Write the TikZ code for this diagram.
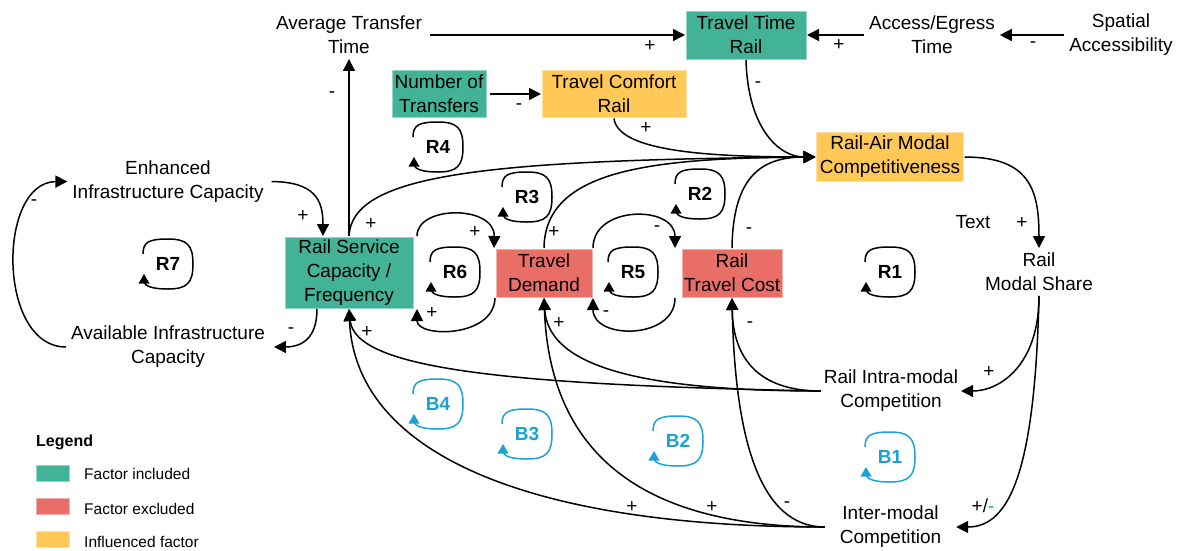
\documentclass[tikz,border=0pt]{standalone}
\usepackage{fontspec}
\setmainfont{Liberation Sans}
\usetikzlibrary{arrows.meta}

\definecolor{incl}{RGB}{67,179,151}
\definecolor{excl}{RGB}{233,110,103}
\definecolor{infl}{RGB}{255,200,87}
\definecolor{loopblue}{RGB}{27,161,212}

\tikzset{
  lbl/.style={font=\fontsize{19}{24}\selectfont, align=center, inner sep=0pt, outer sep=5pt},
  factor/.style={lbl, outer sep=1pt, fill=#1, draw=#1!55!white, line width=0.6pt},
  arr/.style={line width=1.5pt, -{Triangle[length=12pt,width=12pt]}},
  sign/.style={font=\fontsize{19}{22}\selectfont, inner sep=0pt},
  looplbl/.style={font=\fontsize{19}{22}\selectfont\bfseries, inner sep=0pt},
  legendtxt/.style={font=\fontsize{15.5}{19}\selectfont, anchor=west, inner sep=0pt},
  swatch/.style={fill=#1, draw=#1!55!white, line width=0.6pt, minimum width=33pt, minimum height=16pt, inner sep=0pt, anchor=north west},
}

% feedback-loop marker: rounded loop, arrowhead at lower left, bold label
\newcommand{\fbloop}[4]{%
  \begin{scope}[shift={(#1,#2)}]
    \draw[#4, line width=1.5pt] (-25,-10) .. controls (-25,-22) and (-19,-25) .. (0,-25)
      .. controls (19,-25) and (25,-19) .. (25,0)
      .. controls (25,19) and (19,25) .. (0,25)
      .. controls (-16,25) and (-24,22) .. (-24,17);
    \fill[#4] (-24,10) -- (-29.5,19.5) -- (-18.5,19.5) -- cycle;
    \node[looplbl, text=#4] (loop#3) at (0,0) {#3};
  \end{scope}}

\begin{document}
\begin{tikzpicture}[x=1pt,y=-1pt]
\useasboundingbox (0,0) rectangle (1184,550);

% ---- factors ----
\node[lbl] (avgT) at (349,35) {Average Transfer\\Time};
\node[factor=incl, minimum width=120pt, minimum height=48pt] (ttr) at (746,35) {Travel Time\\Rail};
\node[lbl] (aet) at (932,35) {Access/Egress\\Time};
\node[lbl] (spa) at (1121,35) {Spatial\\Accessibility};
\node[factor=incl, minimum width=94pt, minimum height=47pt] (not) at (439,94) {Number of\\Transfers};
\node[factor=infl, minimum width=144pt, minimum height=47pt] (tcr) at (614,94) {Travel Comfort\\Rail};
\node[factor=infl, minimum width=147pt, minimum height=49pt] (rac) at (890,157) {Rail-Air Modal\\Competitiveness};
\node[lbl] (eic) at (168,181.5) {Enhanced\\Infrastructure Capacity};
\node[factor=incl, minimum width=128pt, minimum height=71pt] (rsc) at (349,272.5) {Rail Service\\Capacity /\\Frequency};
\node[lbl] (aic) at (168,347) {Available Infrastructure\\Capacity};
\node[factor=excl, minimum width=96pt, minimum height=48pt] (td) at (544,273) {Travel\\Demand};
\node[factor=excl, minimum width=100pt, minimum height=48pt] (rtc) at (732,273) {Rail\\Travel Cost};
\node[lbl] (rms) at (1039,272) {Rail\\Modal Share};
\node[lbl, outer sep=3pt] (ric) at (891,391) {Rail Intra-modal\\Competition};
\node[lbl] (imc) at (890.5,527) {Inter-modal\\Competition};
\node[lbl] (txt) at (973,222) {Text};

% ---- connectors ----
\draw[arr] ([xshift=3pt]avgT.east) -- (ttr.west);
\draw[arr] (aet.west) -- (ttr.east);
\draw[arr] (spa.west) -- (aet.east);
\draw[arr] ([xshift=3pt]not.east) -- (tcr.west);
\draw[arr] (rsc.north) -- (avgT.south);

\draw[arr] (ttr.south) .. controls (748,130) and (780,157) .. (rac.west);
\draw[arr] (tcr.south) .. controls (618,150) and (700,157) .. (rac.west);
\draw[arr] (rsc.north) .. controls (352,175) and (480,160) .. (rac.west);
\draw[arr] (td.north) .. controls (545,170) and (650,158) .. (rac.west);
\draw[arr] (rtc.north) .. controls (733,178) and (760,157) .. (rac.west);
\draw[arr] (rac.east) .. controls (1030,157) and (1039,190) .. (rms.north);

\draw[arr] ([xshift=3pt]eic.east) .. controls (315,182) and (323,200) .. ([xshift=-26pt]rsc.north);
\draw[arr] ([xshift=-32pt]rsc.south) .. controls (317,340) and (300,347) .. ([xshift=4pt]aic.east);
\draw[arr] (aic.west) .. controls (-3,347) and (-3,182) .. (eic.west);

\draw[arr] ([xshift=3pt]rsc.north east) .. controls (417,205) and (495,205) .. ([xshift=-1pt]td.north west);
\draw[arr] (td.south west) .. controls (494,338) and (417,338) .. ([xshift=3pt]rsc.south east);
\draw[arr] (td.north east) .. controls (593,205) and (675,205) .. ([xshift=-6pt]rtc.north west);
\draw[arr] ([xshift=-6pt]rtc.south west) .. controls (675,340) and (593,340) .. (td.south east);

\draw[arr] (rms.south) .. controls (1039,365) and (1000,391) .. (ric.east);
\draw[arr] (rms.south) .. controls (1035,470) and (1010,527) .. ([xshift=10pt]imc.east);

\draw[arr] (ric.west) .. controls (500,385) and (355,368) .. (rsc.south);
\draw[arr] (ric.west) .. controls (620,391) and (548,360) .. (td.south);
\draw[arr] (ric.west) .. controls (760,391) and (733,360) .. (rtc.south);

\draw[arr] ([xshift=-10pt]imc.west) .. controls (520,527) and (355,450) .. (rsc.south);
\draw[arr] ([xshift=-10pt]imc.west) .. controls (650,527) and (550,460) .. (td.south);
\draw[arr] ([xshift=-10pt]imc.west) .. controls (760,527) and (735,440) .. (rtc.south);

% ---- polarity signs ----
\node[sign] (p1) at (650,46) {+};
\node[sign] (p2) at (839,45) {+};
\node[sign] (p3) at (1033,45) {-};
\node[sign] (p4) at (519,107) {-};
\node[sign] (p5) at (332,95) {-};
\node[sign] (p6) at (758,85) {-};
\node[sign] (p7) at (646,128) {+};
\node[sign] (p8) at (303,216) {+};
\node[sign] (p9) at (371,224) {+};
\node[sign] (p10) at (291,331) {-};
\node[sign] (p11) at (34,203) {-};
\node[sign] (p12) at (367,332) {+};
\node[sign] (p13) at (475,232) {+};
\node[sign] (p14) at (554,232) {+};
\node[sign] (p15) at (657,229) {-};
\node[sign] (p16) at (749,231) {-};
\node[sign] (p17) at (432,313) {+};
\node[sign] (p18) at (606,314) {-};
\node[sign] (p19) at (559,323) {+};
\node[sign] (p20) at (750,325) {-};
\node[sign] (p21) at (989,372) {+};
\node[sign] (p22) at (1022,223) {+};
\node[sign] (p23) at (983,506) {+/\textcolor{loopblue}{-}};
\node[sign] (p24) at (632,507) {+};
\node[sign] (p25) at (712,507) {+};
\node[sign] (p26) at (787,505) {-};

% ---- loop markers ----
\fbloop{438}{147}{R4}{black}
\fbloop{527}{197}{R3}{black}
\fbloop{700}{194}{R2}{black}
\fbloop{455}{272}{R6}{black}
\fbloop{633}{272}{R5}{black}
\fbloop{890}{272}{R1}{black}
\fbloop{168}{264}{R7}{black}
\fbloop{438}{404}{B4}{loopblue}
\fbloop{527}{434}{B3}{loopblue}
\fbloop{678}{441}{B2}{loopblue}
\fbloop{890}{457}{B1}{loopblue}

% ---- legend ----
\node[font=\fontsize{16}{19}\selectfont\bfseries, anchor=west, inner sep=0pt] (legend) at (36,442) {Legend};
\node[swatch=incl] (swI) at (36,465) {};
\node[swatch=excl] (swE) at (36,498) {};
\node[swatch=infl] (swF) at (36,531) {};
\node[legendtxt] (lgI) at (84,474) {Factor included};
\node[legendtxt] (lgE) at (84,509) {Factor excluded};
\node[legendtxt] (lgF) at (84,542) {Influenced factor};
\end{tikzpicture}
\end{document}
